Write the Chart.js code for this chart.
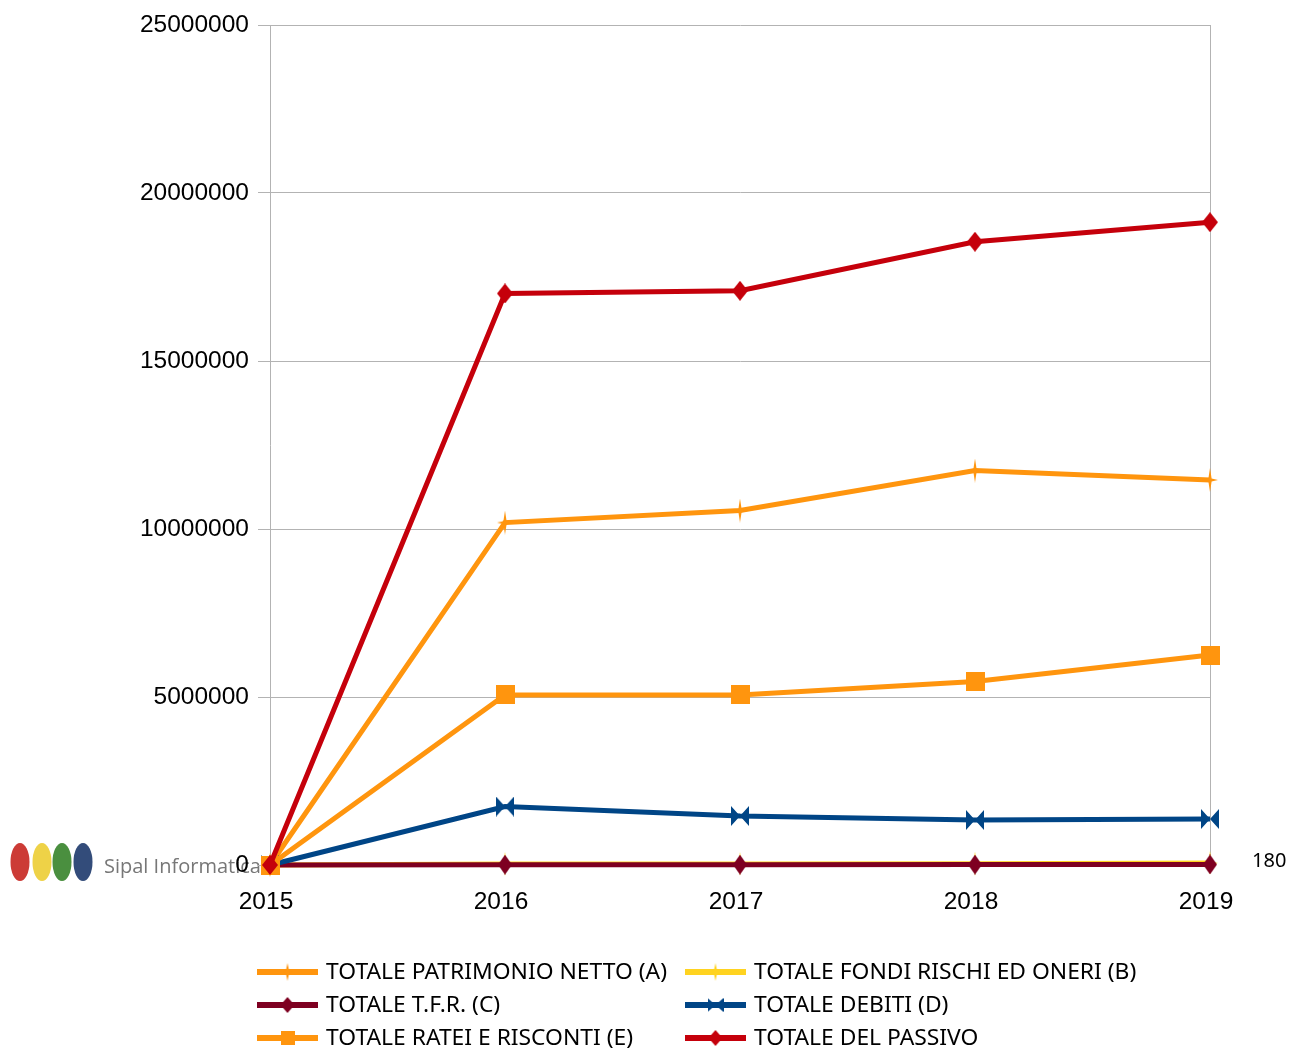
<!DOCTYPE html>
<html>
<head>
<meta charset="utf-8">
<script src="https://cdn.jsdelivr.net/npm/chart.js@4.4.1/dist/chart.umd.min.js"></script>
<style>
  html, body { margin: 0; padding: 0; background: #ffffff; }
  #wrap { position: relative; width: 1290px; height: 1049px; }
</style>
</head>
<body>
<div id="wrap"><canvas id="c" width="1290" height="1049"></canvas></div>
<script>
// ---- data ----
const years = ['2015', '2016', '2017', '2018', '2019'];
const patrimonioNetto = [0, 10190000, 10550000, 11740000, 11460000];
const fondiRischi = [0, 30000, 30000, 40000, 60000];
const tfr = [0, 10000, 10000, 12000, 15000];
const debiti = [0, 1740000, 1460000, 1340000, 1370000];
const rateiRisconti = [0, 5060000, 5060000, 5460000, 6250000];
const totalePassivo = [0, 17010000, 17090000, 18550000, 19130000];
const seriesLabels = [
  'TOTALE PATRIMONIO NETTO (A)',
  'TOTALE FONDI RISCHI ED ONERI (B)',
  'TOTALE T.F.R. (C)',
  'TOTALE DEBITI (D)',
  'TOTALE RATEI E RISCONTI (E)',
  'TOTALE DEL PASSIVO'
];
const yTicksMax = 25000000;
const yTicksStep = 5000000;

// ---- marker images ----
function makeMarker(shape, color, w, h) {
  const c = document.createElement('canvas');
  c.width = w; c.height = h;
  const g = c.getContext('2d');
  g.fillStyle = color;
  g.beginPath();
  if (shape === 'diamond') {
    g.moveTo(w / 2, 0); g.lineTo(w, h / 2); g.lineTo(w / 2, h); g.lineTo(0, h / 2); g.closePath();
  } else if (shape === 'square') {
    g.rect(0, 0, w, h);
  } else if (shape === 'bowtie') {
    g.moveTo(0, 0); g.lineTo(w / 2, h / 2); g.lineTo(0, h); g.closePath();
    g.moveTo(w, 0); g.lineTo(w / 2, h / 2); g.lineTo(w, h); g.closePath();
  } else if (shape === 'star4') {
    const d = 1.6;
    g.moveTo(w / 2, 0); g.lineTo(w / 2 + d, h / 2 - d); g.lineTo(w, h / 2);
    g.lineTo(w / 2 + d, h / 2 + d); g.lineTo(w / 2, h); g.lineTo(w / 2 - d, h / 2 + d);
    g.lineTo(0, h / 2); g.lineTo(w / 2 - d, h / 2 - d); g.closePath();
  }
  g.fill();
  return c;
}

const cOrange = '#ff950e', cYellow = '#ffd320', cDarkRed = '#7e0021', cBlue = '#004586', cRed = '#c5000b';

const seriesValues = [patrimonioNetto, fondiRischi, tfr, debiti, rateiRisconti, totalePassivo];
const seriesColors = [cOrange, cYellow, cDarkRed, cBlue, cOrange, cRed];
const chartMarkers = [
  makeMarker('star4', cOrange, 16, 24),
  makeMarker('star4', cYellow, 16, 24),
  makeMarker('diamond', cDarkRed, 14, 20),
  makeMarker('bowtie', cBlue, 18, 20),
  makeMarker('square', cOrange, 19, 19),
  makeMarker('diamond', cRed, 16, 20)
];
const legendMarkers = [
  makeMarker('star4', cOrange, 10, 18),
  makeMarker('star4', cYellow, 10, 18),
  makeMarker('diamond', cDarkRed, 14, 16),
  makeMarker('bowtie', cBlue, 16, 14),
  makeMarker('square', cOrange, 14, 14),
  makeMarker('diamond', cRed, 14, 16)
];

const datasets = seriesLabels.map((lab, i) => ({
  label: lab,
  data: seriesValues[i],
  borderColor: seriesColors[i],
  backgroundColor: seriesColors[i],
  borderWidth: 5,
  pointStyle: chartMarkers[i],
  pointRadius: 8,
  pointHoverRadius: 8,
  tension: 0,
  clip: false,
  order: seriesLabels.length - 1 - i
}));

// ---- watermark / extra text plugin (drawn beneath) ----
const watermark = {
  id: 'watermark',
  beforeDraw(chart) {
    const ctx = chart.ctx;
    ctx.save();
    const ell = [['#cc3b36', 20], ['#eed247', 42], ['#4a8f3f', 62], ['#334c7a', 83]];
    ell.forEach(([col, cx]) => {
      ctx.fillStyle = col;
      ctx.beginPath();
      ctx.ellipse(cx, 862, 9.5, 19, 0, 0, Math.PI * 2);
      ctx.fill();
    });
    ctx.fillStyle = '#777777';
    ctx.font = '20px "Open Sans", "Noto Sans", sans-serif';
    ctx.textBaseline = 'alphabetic';
    ctx.textAlign = 'left';
    ctx.fillText('Sipal Informatica', 104, 873);
    ctx.fillStyle = '#000000';
    ctx.font = '20px "Noto Sans", "Open Sans", sans-serif';
    ctx.fillText('180', 1252, 867);
    ctx.restore();
  }
};

// ---- custom two-column legend ----
const legend2 = {
  id: 'legend2',
  afterDraw(chart) {
    const ctx = chart.ctx;
    ctx.save();
    const colX = [257, 685];
    const rowY = [972, 1005, 1038];
    ctx.font = '22.5px "Noto Sans", "Open Sans", sans-serif';
    const ref = ctx.measureText(seriesLabels[0]).width;
    const k = 341 / ref;
    chart.data.datasets.forEach((ds, i) => {
      const x = colX[i % 2];
      const y = rowY[Math.floor(i / 2)];
      ctx.strokeStyle = ds.borderColor;
      ctx.lineWidth = 6;
      ctx.beginPath();
      ctx.moveTo(x, y);
      ctx.lineTo(x + 61, y);
      ctx.stroke();
      const m = legendMarkers[i];
      ctx.drawImage(m, x + 30.5 - m.width / 2, y - m.height / 2);
      ctx.fillStyle = '#000000';
      ctx.textBaseline = 'middle';
      ctx.textAlign = 'left';
      ctx.save();
      ctx.translate(x + 69, y + 1);
      ctx.scale(k, 1);
      ctx.fillText(ds.label, 0, 0);
      ctx.restore();
    });
    ctx.restore();
  }
};

const axisFont = { family: '"Liberation Sans", Arial, sans-serif', size: 24.5 };

new Chart(document.getElementById('c'), {
  type: 'line',
  data: { labels: years, datasets: datasets },
  options: {
    responsive: false,
    animation: false,
    events: [],
    layout: { padding: { left: 0, top: 25, right: 80, bottom: 134 } },
    plugins: {
      legend: { display: false },
      tooltip: { enabled: false },
      title: { display: false }
    },
    scales: {
      x: {
        type: 'category',
        offset: false,
        grid: {
          display: true,
          drawTicks: false,
          color: (c) => (c.index === years.length - 1 ? '#b3b3b3' : 'rgba(0,0,0,0)'),
          lineWidth: 1
        },
        border: { display: false },
        ticks: { color: '#000000', font: axisFont, padding: 23, labelOffset: -4, maxRotation: 0, autoSkip: false },
        afterFit: (s) => { s.height = 50; }
      },
      y: {
        min: 0,
        max: yTicksMax,
        grid: { color: '#b3b3b3', lineWidth: 1, tickLength: 12, drawTicks: true },
        border: { display: true, color: '#b3b3b3', width: 1 },
        ticks: {
          stepSize: yTicksStep,
          color: '#000000',
          font: axisFont,
          padding: 9,
          callback: (v) => String(v)
        },
        afterFit: (s) => { s.width = 270; }
      }
    }
  },
  plugins: [watermark, legend2]
});
</script>
</body>
</html>
